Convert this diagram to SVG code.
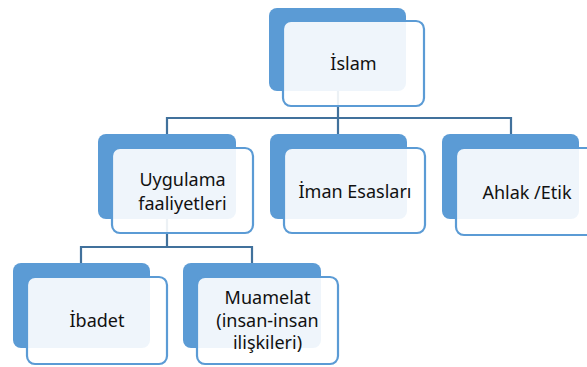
<svg xmlns="http://www.w3.org/2000/svg" width="587" height="367" viewBox="0 0 587 367">
<style>
.back{fill:#5B9BD5;}
.front{fill:#FFFFFF;fill-opacity:0.9;stroke:#5B9BD5;stroke-width:2.2;}
.lbl{font-family:"Noto Sans","Liberation Sans",sans-serif;font-size:18px;fill:#111;text-anchor:middle;}
.conn{fill:none;stroke:#41719C;stroke-width:2.2;}
</style>
<rect width="587" height="367" fill="#FFFFFF"/>
<g id="connectors">
<path class="conn" d="M338,90 V118 M167,134 V118 H511 V134 M338,118 V134"/>
<path class="conn" d="M167,219 V247 M81,263 V247 H252 V263"/>
</g>
<g id="islam">
<rect class="back" x="269" y="8" width="137" height="83" rx="8"/>
<rect class="front" x="283" y="21" width="141" height="85" rx="8"/>
<text class="lbl" x="353.5" y="70">İslam</text>
</g>
<g id="uygulama">
<rect class="back" x="98" y="134" width="138" height="85" rx="8"/>
<rect class="front" x="112" y="148" width="141" height="85" rx="8"/>
<text class="lbl" x="182.5" y="186">Uygulama</text>
<text class="lbl" x="182.5" y="210">faaliyetleri</text>
</g>
<g id="iman">
<rect class="back" x="270" y="134" width="137" height="85" rx="8"/>
<rect class="front" x="284" y="148" width="141" height="85" rx="8"/>
<text class="lbl" x="355" y="198">İman Esasları</text>
</g>
<g id="ahlak">
<rect class="back" x="442" y="134" width="137" height="85" rx="8"/>
<rect class="front" x="456" y="148" width="141" height="87" rx="8"/>
<text class="lbl" x="527" y="199">Ahlak /Etik</text>
</g>
<g id="ibadet">
<rect class="back" x="13" y="263" width="137" height="85" rx="8"/>
<rect class="front" x="27" y="277" width="140" height="87" rx="8"/>
<text class="lbl" x="97" y="327">İbadet</text>
</g>
<g id="muamelat">
<rect class="back" x="183" y="263" width="138" height="85" rx="8"/>
<rect class="front" x="197" y="277" width="141" height="87" rx="8"/>
<text class="lbl" x="267.5" y="304">Muamelat</text>
<text class="lbl" x="267.5" y="327">(insan-insan</text>
<text class="lbl" x="267.5" y="349">ilişkileri)</text>
</g>
</svg>
